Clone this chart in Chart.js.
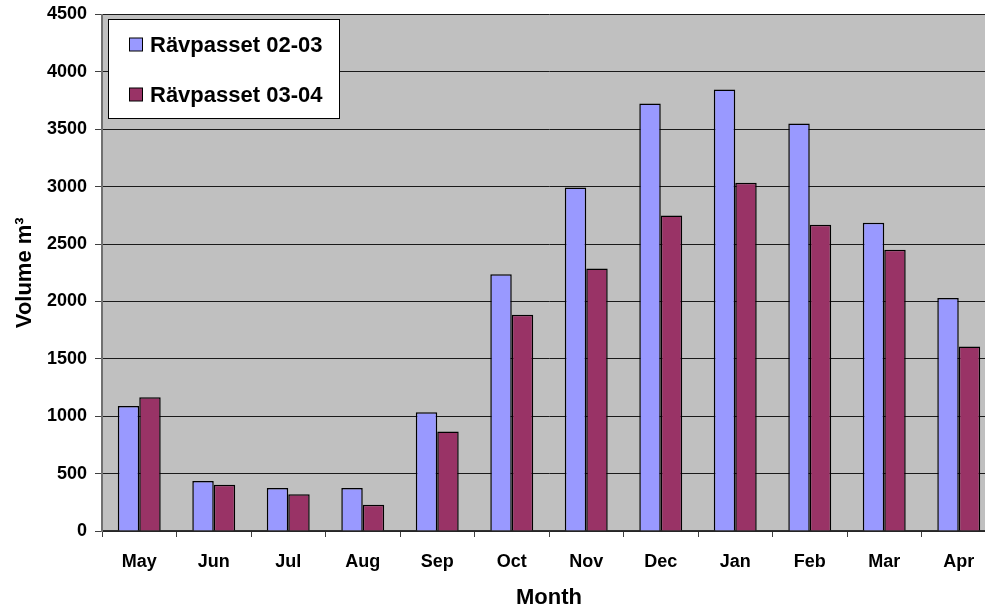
<!DOCTYPE html>
<html>
<head>
<meta charset="utf-8">
<script src="https://cdn.jsdelivr.net/npm/chart.js@4/dist/chart.umd.min.js"></script>
<style>
  html, body { margin: 0; padding: 0; background: #ffffff; overflow: hidden; }
  #wrap { width: 1000px; height: 609px; }
</style>
</head>
<body>
<div id="wrap"><canvas id="chart" width="1000" height="609"></canvas></div>
<script>
// Monthly volumes (m³) for the two seasons
const months = ['May', 'Jun', 'Jul', 'Aug', 'Sep', 'Oct', 'Nov', 'Dec', 'Jan', 'Feb', 'Mar', 'Apr'];
const season0203 = [1090, 436, 375, 375, 1035, 2238, 2993, 3725, 3847, 3551, 2685, 2031];
const season0304 = [1166, 404, 320, 229, 866, 1883, 2287, 2749, 3034, 2668, 2450, 1607];
const seriesNames = ['Rävpasset 02-03', 'Rävpasset 03-04'];
const yMax = 4500;
const yStep = 500;

const FONT = '"Liberation Sans", Arial, sans-serif';

// Grey plot background
const plotBackground = {
  id: 'plotBackground',
  beforeDraw(chart) {
    const { ctx, chartArea: a } = chart;
    ctx.save();
    ctx.fillStyle = '#C0C0C0';
    ctx.fillRect(a.left, a.top, a.right - a.left, a.bottom - a.top);
    ctx.restore();
  }
};

// Boxed legend inside the plot area, top-left
const boxLegend = {
  id: 'boxLegend',
  afterDraw(chart) {
    const { ctx } = chart;
    const x = 108.5, y = 19.5, w = 231, h = 99;
    ctx.save();
    ctx.fillStyle = '#ffffff';
    ctx.fillRect(x, y, w, h);
    ctx.strokeStyle = '#000000';
    ctx.lineWidth = 1;
    ctx.strokeRect(x, y, w, h);
    ctx.font = 'bold 22px ' + FONT;
    ctx.textBaseline = 'middle';
    ctx.textAlign = 'left';
    chart.data.datasets.forEach((ds, i) => {
      const cy = 45 + i * 50;
      ctx.fillStyle = ds.backgroundColor;
      ctx.fillRect(129.5, cy - 7, 13, 13);
      ctx.strokeStyle = '#000000';
      ctx.strokeRect(129.5, cy - 7, 13, 13);
      ctx.fillStyle = '#000000';
      ctx.fillText(ds.label, 150, cy + 1);
    });
    ctx.restore();
  }
};

new Chart(document.getElementById('chart'), {
  type: 'bar',
  data: {
    labels: months,
    datasets: [
      { label: seriesNames[0], data: season0203, backgroundColor: '#9999FF', borderColor: '#000000', borderWidth: 1.5 },
      { label: seriesNames[1], data: season0304, backgroundColor: '#993366', borderColor: '#000000', borderWidth: 1.5 }
    ]
  },
  options: {
    responsive: false,
    animation: false,
    devicePixelRatio: 1,
    layout: { padding: { top: 14.5, right: 4, bottom: 0, left: 0 } },
    datasets: { bar: { categoryPercentage: 0.576, barPercentage: 1.0 } },
    plugins: {
      legend: { display: false },
      tooltip: { enabled: false }
    },
    scales: {
      x: {
        grid: {
          offset: true,
          drawOnChartArea: false,
          drawTicks: true,
          tickLength: 6,
          color: '#404040'
        },
        border: { color: '#303030', width: 1.5 },
        ticks: {
          color: '#000000',
          padding: 14,
          maxRotation: 0,
          autoSkip: false,
          font: { family: FONT, size: 18, weight: 'bold' }
        },
        title: {
          display: true,
          text: 'Month',
          color: '#000000',
          padding: { top: 0, bottom: -2 },
          font: { family: FONT, size: 22, weight: 'bold' }
        },
        afterFit(scale) { scale.height = 78; }
      },
      y: {
        min: 0,
        max: yMax,
        grid: {
          color: '#1a1a1a',
          lineWidth: 1,
          drawTicks: true,
          tickLength: 7,
          tickColor: '#404040'
        },
        border: { color: '#707070', width: 2 },
        ticks: {
          stepSize: yStep,
          color: '#000000',
          padding: 8,
          callback: (v) => String(v),
          font: { family: FONT, size: 18, weight: 'bold' }
        },
        title: {
          display: true,
          text: 'Volume m³',
          color: '#000000',
          padding: { top: 12, bottom: 0 },
          font: { family: FONT, size: 22, weight: 'bold' }
        },
        afterFit(scale) {
          scale.width = 102;
          scale.paddingTop = 0;
          scale.paddingBottom = 0;
        }
      }
    }
  },
  plugins: [plotBackground, boxLegend]
});
</script>
</body>
</html>
